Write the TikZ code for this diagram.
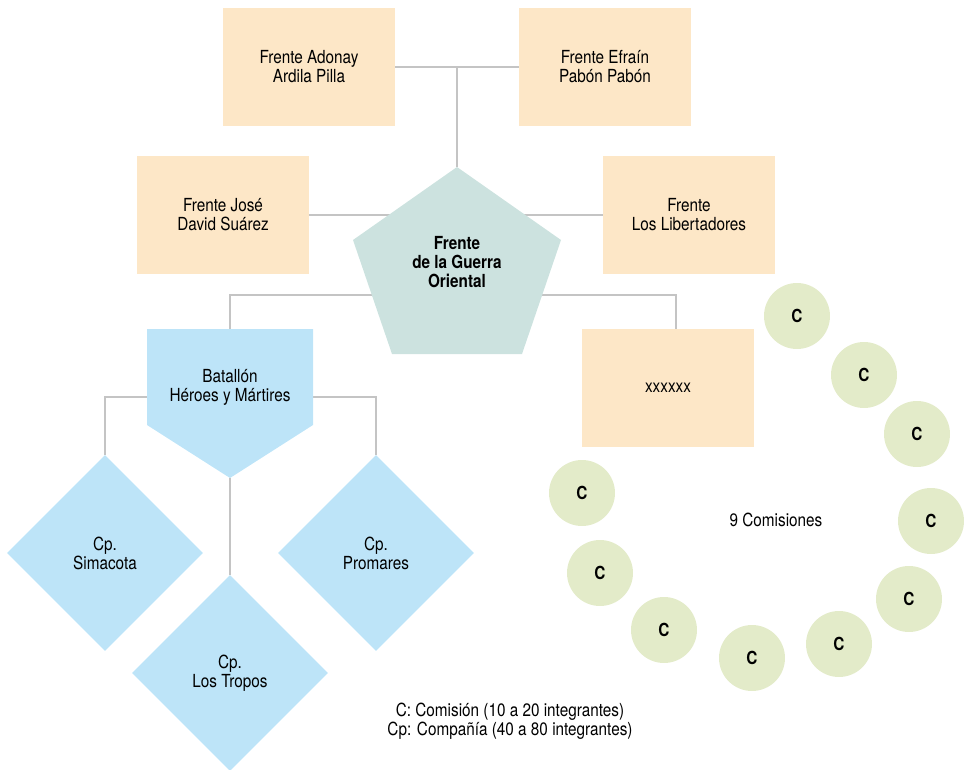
\documentclass[tikz,border=0pt]{standalone}
\usepackage{fontspec}
\setmainfont{TeX Gyre Heros}[FakeStretch=0.85]
\usepackage{tikz}
\usetikzlibrary{shapes.geometric}
\usetikzlibrary{backgrounds}

\definecolor{naranja}{HTML}{FDE7C7}
\definecolor{verdeagua}{HTML}{CCE2DF}
\definecolor{celeste}{HTML}{BDE4F8}
\definecolor{verde}{HTML}{E3EBC9}
\definecolor{gris}{HTML}{C4C4C4}

\begin{document}
\begin{tikzpicture}[x=1pt,y=-1pt]

			\tikzstyle{every node}=[font=\fontsize{18}{19}\selectfont, align=center]
			\tikzstyle{frente}=[fill=naranja, minimum width=172pt, minimum height=118pt]
			\tikzstyle{cp}=[diamond, aspect=1, fill=celeste, inner sep=0pt, minimum width=196pt, minimum height=196pt]
			\tikzstyle{com}=[circle, fill=verde, minimum size=66pt, font=\fontsize{18}{19}\selectfont\bfseries]
			\tikzstyle{linea}=[draw=gris, line width=1.3pt]

			\useasboundingbox (0,0) rectangle (964,770);

			\def\pentagono{(457,167) coordinate (apex) -- (561,240) -- (522,354) -- (392,354) -- (353,240) -- cycle}
			\def\batallon{(147,329) -- (313,329) -- (313,425) -- (230,478) coordinate (battip) -- (147,425) -- cycle}

			\node[frente] (adonay) at (309,67) {Frente Adonay\\Ardila Pilla};
			\node[frente] (efrain) at (605,67) {Frente Efraín\\Pabón Pabón};
			\node[frente] (jose) at (223,215) {Frente José\\David Suárez};
			\node[frente] (liber) at (689,215) {Frente\\Los Libertadores};
			\node[frente] (xx) at (668,388) {xxxxxx};

			\fill[verdeagua] \pentagono;
			\node[font=\fontsize{18}{19}\selectfont\bfseries] (fgo) at (457,262) {Frente\\de la Guerra\\Oriental};

			\fill[celeste] \batallon;
			\node (bat) at (230,387) {Batallón\\Héroes y Mártires};

			\node[cp] (sim) at (105,553) {Cp.\\Simacota};
			\node[cp] (pro) at (376,553) {Cp.\\Promares};
			\node[cp] (tro) at (230,673) {Cp.\\Los Tropos};

			\foreach \x/\y [count=\i] in {797/316, 864/375, 917/434, 931/521, 909/599, 839/644, 752/658, 664/630, 600/573, 582/493}
				\node[com] (c\i) at (\x,\y) {C};

			\node (nueve) at (776,520) {9 Comisiones};
			\node (leyenda) at (510,721) {C: Comisión (10 a 20 integrantes)\\Cp: Compañía (40 a 80 integrantes)};

			\coordinate (battop) at (230,329);
			\coordinate (batizq) at (147,397);
			\coordinate (batder) at (313,397);
			\coordinate (xxtop) at (676,329);

			\begin{scope}[on background layer]
			\draw[linea] (adonay) -- (efrain);
			\draw[linea] (apex) -- (apex |- adonay);
			\draw[linea] (jose) -- (liber);
			\draw[linea] (battop) -- ++(0,-34) -| (xxtop);
			\draw[linea] (batizq) -| (sim.north);
			\draw[linea] (batder) -| (pro.north);
			\draw[linea] (battip) -- (tro.north);
			\end{scope}
			\end{tikzpicture}
\end{document}
